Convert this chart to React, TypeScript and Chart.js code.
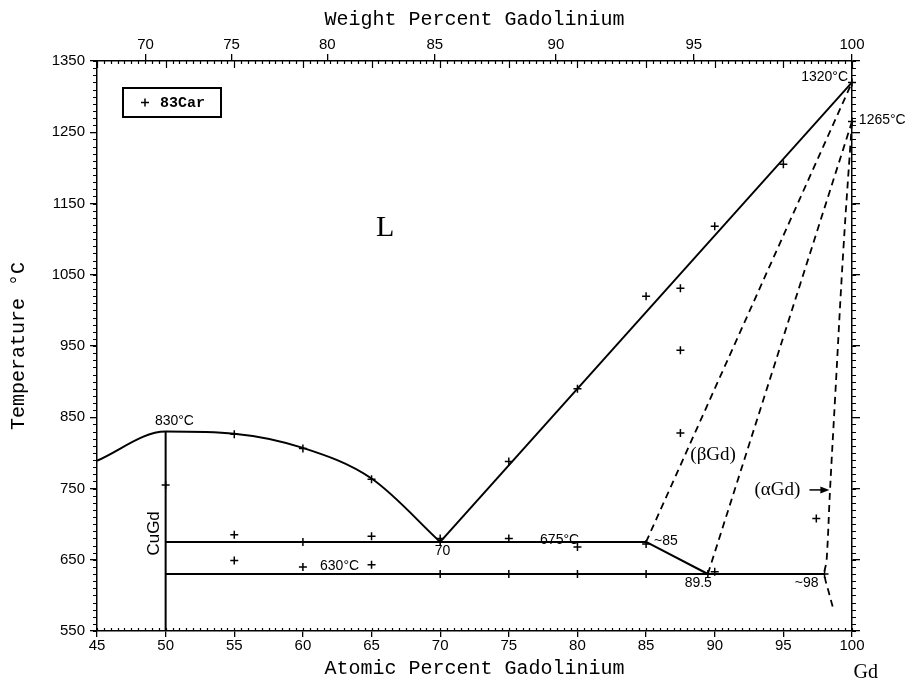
import React, { useEffect, useRef } from 'react';
import { Chart, registerables } from 'chart.js';

Chart.register(...registerables);

// ---- axes ----
const X_MIN = 45;
const X_MAX = 100;
const Y_MIN = 550;
const Y_MAX = 1350;
const X_STEP = 5;
const Y_STEP = 100;
const WT_TICKS = [70, 75, 80, 85, 90, 95, 100];
const M_GD = 157.25;
const M_CU = 63.546;
const wtToAt = (w: number) => {
  const g = w / M_GD;
  const c = (100 - w) / M_CU;
  return (100 * g) / (g + c);
};

// ---- phase boundaries (at.% Gd, °C) ----
const LIQ_LEFT_X = [45, 50, 55, 60, 65, 70];
const LIQ_LEFT_T = [789, 830, 827, 807, 764, 675];
const LIQ_RIGHT_X = [70, 100];
const LIQ_RIGHT_T = [675, 1320];
const CUGD_X = [50, 50];
const CUGD_T = [830, 550];
const EUT675_X = [50, 85];
const EUT675_T = [675, 675];
const EUT630_X = [50, 98];
const EUT630_T = [630, 630];
const PERI_X = [85, 89.5];
const PERI_T = [675, 630];
const BETA_SOLIDUS_X = [85, 100];
const BETA_SOLIDUS_T = [675, 1320];
const BETA_SOLVUS_X = [89.5, 100];
const BETA_SOLVUS_T = [630, 1265];
const ALPHA_SOLVUS_X = [100, 99.37, 98.76, 98.4, 98.15, 98.0, 98.3, 98.64];
const ALPHA_SOLVUS_T = [1265, 1085, 874, 748, 649, 630, 605, 581];

// ---- experimental points (83Car) ----
const CAR_X = [50, 55, 60, 65, 70, 70, 75, 80, 85, 87.5, 87.5, 87.5, 90, 95, 100, 100,
  55, 60, 65, 75, 80, 85, 55, 60, 65, 70, 75, 80, 85, 89.5, 90, 98, 97.4];
const CAR_T = [755, 826, 806, 763, 680, 675, 788, 890, 1020, 1031, 944, 828, 1118, 1205, 1320, 1265,
  685, 675, 683, 680, 668, 672, 649, 640, 643, 630, 630, 630, 630, 630, 633, 630, 708];

const zip = (xs: number[], ts: number[]) => xs.map((x, i) => ({ x, y: ts[i] }));

const SANS = "'Liberation Sans', Arial, sans-serif";
const SERIF = "'Liberation Serif', 'Times New Roman', serif";
const MONO = "'Liberation Mono', 'Courier New', monospace";

const overlay = {
  id: 'overlay',
  afterDraw(chart: any) {
    const { ctx, chartArea } = chart;
    const x = chart.scales.x;
    const y = chart.scales.y;
    const px = (v: number) => x.getPixelForValue(v);
    const py = (v: number) => y.getPixelForValue(v);
    ctx.save();
    ctx.strokeStyle = '#000';
    ctx.fillStyle = '#000';
    ctx.lineWidth = 1.2;
    // minor ticks, x (every 0.5 at.%), inward on top and bottom
    ctx.beginPath();
    for (let k = X_MIN * 2; k <= X_MAX * 2; k++) {
      const v = k / 2;
      const p = Math.round(px(v)) + 0.5;
      const major = v % X_STEP === 0;
      ctx.moveTo(p, chartArea.top);
      ctx.lineTo(p, chartArea.top + (major ? 7 : 3));
      ctx.moveTo(p, chartArea.bottom);
      ctx.lineTo(p, chartArea.bottom - 3);
    }
    // minor ticks, y (every 10 °C), outward on left and right
    for (let t = Y_MIN; t <= Y_MAX; t += 10) {
      const p = Math.round(py(t)) + 0.5;
      ctx.moveTo(chartArea.left, p);
      ctx.lineTo(chartArea.left - 4, p);
      ctx.moveTo(chartArea.right, p);
      ctx.lineTo(chartArea.right + 4, p);
    }
    ctx.stroke();

    const text = (s: string, xv: number, tv: number, font: string, align = 'center', rot = 0) => {
      ctx.save();
      ctx.font = font;
      ctx.textAlign = align;
      ctx.textBaseline = 'middle';
      ctx.translate(px(xv), py(tv));
      if (rot) ctx.rotate(rot);
      ctx.fillText(s, 0, 0);
      ctx.restore();
    };
    const f14 = `14px ${SANS}`;
    text('830°C', 50.64, 845, f14);
    text('675°C', 78.7, 677, f14);
    text('630°C', 62.67, 641, f14);
    text('70', 70.17, 662, f14);
    text('~85', 86.45, 676, f14);
    text('89.5', 88.8, 617, f14);
    text('~98', 96.7, 617, f14);
    text('1320°C', 99.71, 1328, f14, 'right');
    text('1265°C', 100.5, 1267, f14, 'left');
    text('CuGd', 49.17, 687, `17px ${SANS}`, 'center', -Math.PI / 2);
    text('(βGd)', 89.88, 797, `19px ${SERIF}`);
    text('(αGd)', 94.56, 748.5, `19px ${SERIF}`);
    text('L', 66, 1115, `30px ${SERIF}`);
    text('Gd', 101, 492, `20px ${SERIF}`);

    // arrow to alpha-Gd boundary
    const ax0 = px(96.9);
    const ax1 = px(98.35);
    const ay = py(748);
    ctx.lineWidth = 1.5;
    ctx.beginPath();
    ctx.moveTo(ax0, ay);
    ctx.lineTo(ax1 - 6, ay);
    ctx.stroke();
    ctx.beginPath();
    ctx.moveTo(ax1, ay);
    ctx.lineTo(ax1 - 9, ay - 3.5);
    ctx.lineTo(ax1 - 9, ay + 3.5);
    ctx.closePath();
    ctx.fill();

    // legend box
    const lx = chartArea.left + 26;
    const ly = chartArea.top + 27;
    ctx.lineWidth = 2;
    ctx.strokeRect(lx, ly, 98, 29);
    ctx.lineWidth = 1.5;
    const cx = lx + 22;
    const cy = ly + 14.5;
    ctx.beginPath();
    ctx.moveTo(cx - 4, cy);
    ctx.lineTo(cx + 4, cy);
    ctx.moveTo(cx, cy - 4);
    ctx.lineTo(cx, cy + 4);
    ctx.stroke();
    ctx.font = `bold 15px ${MONO}`;
    ctx.textAlign = 'left';
    ctx.textBaseline = 'middle';
    ctx.fillText(chart.data.datasets[0].label, lx + 37, cy + 1);
    ctx.restore();
  },
};

export default function App() {
  const ref = useRef<HTMLCanvasElement | null>(null);
  useEffect(() => {
    const canvas = ref.current;
    if (!canvas) return;
    const line = (xs: number[], ts: number[], extra: any = {}) => ({
      type: 'line',
      data: zip(xs, ts),
      borderColor: '#000',
      borderWidth: 2,
      pointRadius: 0,
      fill: false,
      tension: 0,
      xAxisID: 'x',
      yAxisID: 'y',
      ...extra,
    });
    const dash = { borderDash: [7, 5], borderWidth: 1.8 };
    const tickFont = { family: SANS, size: 15 };
    const titleFont = { family: MONO, size: 20, lineHeight: 1 };
    const grid = (len: number) => ({ drawOnChartArea: false, drawTicks: true, tickLength: len, color: '#000', lineWidth: 1.3 });
    const border = { display: true, color: '#000', width: 1.5 };
    const plain = (v: any) => String(v);
    const chart = new Chart(canvas, {
      type: 'line',
      data: {
        datasets: [
          {
            type: 'scatter',
            label: '83Car',
            data: zip(CAR_X, CAR_T),
            pointStyle: 'cross',
            pointRadius: 4,
            pointBorderWidth: 1.5,
            borderColor: '#000',
            backgroundColor: '#000',
            showLine: false,
            clip: false,
            xAxisID: 'x',
            yAxisID: 'y',
          },
          line(LIQ_LEFT_X, LIQ_LEFT_T, { cubicInterpolationMode: 'monotone' }),
          line(LIQ_RIGHT_X, LIQ_RIGHT_T),
          line(CUGD_X, CUGD_T),
          line(EUT675_X, EUT675_T),
          line(EUT630_X, EUT630_T),
          line(PERI_X, PERI_T),
          line(BETA_SOLIDUS_X, BETA_SOLIDUS_T, dash),
          line(BETA_SOLVUS_X, BETA_SOLVUS_T, dash),
          line(ALPHA_SOLVUS_X, ALPHA_SOLVUS_T, { ...dash, tension: 0.4, clip: false }),
        ] as any,
      },
      options: {
        animation: false,
        responsive: false,
        maintainAspectRatio: false,
        layout: { padding: 0, autoPadding: false },
        plugins: { legend: { display: false }, tooltip: { enabled: false } },
        scales: {
          x: {
            type: 'linear',
            position: 'bottom',
            min: X_MIN,
            max: X_MAX,
            ticks: { stepSize: X_STEP, font: tickFont, color: '#000', padding: 0, autoSkip: false, maxRotation: 0, callback: plain },
            grid: grid(6),
            border,
            title: { display: true, text: 'Atomic Percent Gadolinium', font: titleFont, color: '#000', padding: { top: 0, bottom: 0 } },
            afterFit: (s: any) => { s.height = 48; },
          },
          x2: {
            type: 'linear',
            position: 'top',
            min: X_MIN,
            max: X_MAX,
            afterBuildTicks: (s: any) => { s.ticks = WT_TICKS.map((w) => ({ value: wtToAt(w) })); },
            ticks: { font: tickFont, color: '#000', padding: 0, autoSkip: false, maxRotation: 0,
              callback: (_v: any, i: number) => String(WT_TICKS[i]) },
            grid: grid(7),
            border,
            title: { display: true, text: 'Weight Percent Gadolinium', font: titleFont, color: '#000', padding: { top: 10, bottom: 0 } },
            afterFit: (s: any) => { s.height = 61; },
          },
          y: {
            type: 'linear',
            position: 'left',
            min: Y_MIN,
            max: Y_MAX,
            ticks: { stepSize: Y_STEP, font: tickFont, color: '#000', padding: 5, callback: plain },
            grid: grid(7),
            border,
            title: { display: true, text: 'Temperature °C', font: titleFont, color: '#000', padding: { top: 9, bottom: 0 } },
            afterFit: (s: any) => { s.width = 97; },
          },
          y2: {
            type: 'linear',
            position: 'right',
            min: Y_MIN,
            max: Y_MAX,
            ticks: { stepSize: Y_STEP, display: false },
            grid: grid(8),
            border,
            afterFit: (s: any) => { s.width = 55; },
          },
        },
      } as any,
      plugins: [overlay],
    });
    return () => chart.destroy();
  }, []);
  return (
    <div style={{ position: 'fixed', left: 0, top: 0, width: 907, height: 679, background: '#fff' }}>
      <canvas ref={ref} width={907} height={679} style={{ display: 'block' }} />
    </div>
  );
}
